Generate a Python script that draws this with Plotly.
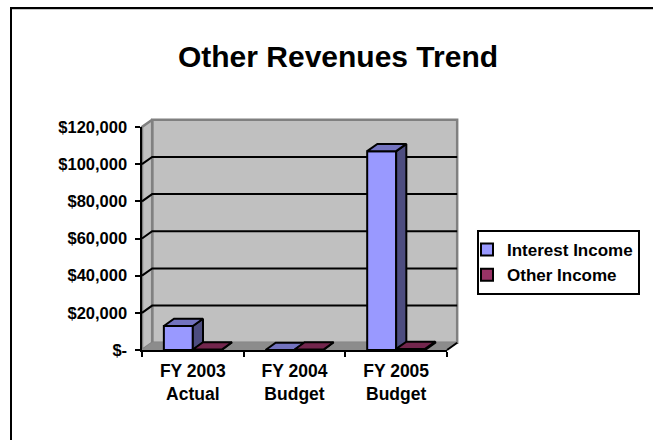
import plotly.graph_objects as go

categories = ["FY 2003<br>Actual", "FY 2004<br>Budget", "FY 2005<br>Budget"]
interest_income = [12900, 0, 107000]
other_income = [300, 300, 600]
y_ticks = [0, 20000, 40000, 60000, 80000, 100000, 120000]
y_labels = ["$- ", "$20,000 ", "$40,000 ", "$60,000 ", "$80,000 ", "$100,000 ", "$120,000 "]

FONT = "Liberation Sans"
BAR_GAP = 0.43
DX, DY = 0.1, 3900
X0, X1 = -0.5, 2.5
BAR_W = (1 - BAR_GAP) / 2
Y_TOP = y_ticks[-1]

# Plot area of the base axes and of the front plane, in page pixels
W, H = 653, 440
PL, PR, PT, PB = 132, 653, 110, 360
FL, FR, FT, FB = 142, 447, 127, 350
x_scale = (X1 - X0) / (FR - FL)
y_scale = Y_TOP / (FB - FT)

series = [
    ("Interest Income", interest_income, "#9999FF", "#7373BF", "#4D4D80", -BAR_W),
    ("Other Income", other_income, "#993366", "#73264D", "#4D1A33", 0),
]

fig = go.Figure()


def poly(xs, ys, fill, line="#000000", width=2, axes=("x", "y")):
    fig.add_trace(go.Scatter(
        x=xs + xs[:1], y=ys + ys[:1], mode="lines", fill="toself", fillcolor=fill,
        line=dict(color=line, width=width), showlegend=False, hoverinfo="skip",
        xaxis=axes[0], yaxis=axes[1],
    ))


# Back wall, side wall and floor on the base axes
poly([X0 + DX, X1 + DX, X1 + DX, X0 + DX], [DY, DY, Y_TOP + DY, Y_TOP + DY], "#C0C0C0", "#808080", 2.5)
poly([X0, X0 + DX, X0 + DX, X0], [0, DY, Y_TOP + DY, Y_TOP], "#C0C0C0", "#808080", 2.5)
poly([X0, X1, X1 + DX, X0 + DX], [0, 0, DY, DY], "#8C8C8C", "#8C8C8C", 1)

# Gridlines run along the side wall and across the back wall
for tick in y_ticks[1:-1]:
    fig.add_trace(go.Scatter(
        x=[X0, X0 + DX, X1 + DX], y=[tick, tick + DY, tick + DY], mode="lines",
        line=dict(color="#000000", width=2), showlegend=False, hoverinfo="skip",
    ))
fig.add_trace(go.Scatter(
    x=[X1, X1 + DX], y=[0, DY], mode="lines", line=dict(color="#000000", width=2),
    showlegend=False, hoverinfo="skip",
))

# Front faces are real bars, on axes stacked above the walls
for name, values, front, _, _, _ in series:
    fig.add_trace(go.Bar(
        x=[0, 1, 2], y=values, name=name,
        marker=dict(color=front, line=dict(color="#000000", width=2)),
        xaxis="x2", yaxis="y2", hoverinfo="skip",
    ))

# Top and side faces of each bar
for name, values, _, top_col, side_col, offset in series:
    for i, v in enumerate(values):
        left, right = i + offset, i + offset + BAR_W
        poly([right, right + DX, right + DX, right], [0, DY, v + DY, v], side_col, axes=("x2", "y2"))
        poly([left, right, right + DX, left + DX], [v, v, v + DY, v + DY], top_col, axes=("x2", "y2"))


def paper_x(px):
    return (px - PL) / (PR - PL)


def paper_y(py):
    return (PB - py) / (PB - PT)


fig.update_layout(
    width=W, height=H,
    margin=dict(l=PL, r=W - PR, t=PT, b=H - PB, pad=0),
    paper_bgcolor="#FFFFFF", plot_bgcolor="rgba(0,0,0,0)",
    barmode="group", bargap=BAR_GAP, bargroupgap=0,
    showlegend=True,
    legend=dict(
        x=paper_x(477), xanchor="left", y=paper_y(230), yanchor="top",
        bordercolor="#000000", borderwidth=2, bgcolor="#FFFFFF", indentation=-12,
        font=dict(family=FONT, size=17, color="#000000", weight="bold"),
    ),
    title=dict(text="<b>Other Revenues Trend</b>", x=338 / W, xanchor="center", y=1 - 56 / H, yanchor="middle",
               font=dict(family=FONT, size=30, color="#000000")),
    xaxis=dict(range=[X0 - (FL - PL) * x_scale, X1 + (PR - FR) * x_scale], showgrid=False, zeroline=False,
               showticklabels=False, ticks="", showline=False),
    yaxis=dict(range=[-(PB - FB) * y_scale, Y_TOP + (FT - PT) * y_scale], showgrid=False, zeroline=False,
               showticklabels=False, ticks="", showline=False),
    xaxis2=dict(
        range=[X0, X1], domain=[paper_x(FL), paper_x(FR)], anchor="y2", showgrid=False, zeroline=False,
        tickmode="array", tickvals=[0, 1, 2], ticktext=categories, ticks="", ticklabelstandoff=4,
        tickfont=dict(family=FONT, size=17.5, color="#000000", weight="bold"),
        showline=True, linecolor="#000000", linewidth=2,
        minor=dict(tickmode="array", tickvals=[-0.5, 0.5, 1.5, 2.5], ticks="outside", ticklen=5,
                   tickwidth=2, tickcolor="#000000"),
    ),
    yaxis2=dict(
        range=[0, Y_TOP], domain=[paper_y(FB), paper_y(FT)], anchor="x2", showgrid=False, zeroline=False,
        tickmode="array", tickvals=y_ticks, ticktext=y_labels,
        ticks="outside", ticklen=5, tickwidth=2, tickcolor="#000000",
        tickfont=dict(family=FONT, size=16.5, color="#000000", weight="bold"),
        showline=True, linecolor="#000000", linewidth=2,
    ),
    # Chart frame: it runs off the page to the right and at the bottom
    shapes=[
        dict(type="line", xref="paper", yref="paper", x0=paper_x(11), x1=paper_x(W), y0=paper_y(9.5), y1=paper_y(9.5),
             line=dict(color="#C8C8C8", width=1)),
        dict(type="line", xref="paper", yref="paper", x0=paper_x(10), x1=paper_x(W), y0=paper_y(8), y1=paper_y(8),
             line=dict(color="#000000", width=2)),
        dict(type="line", xref="paper", yref="paper", x0=paper_x(11), x1=paper_x(11), y0=paper_y(7), y1=paper_y(H),
             line=dict(color="#000000", width=2)),
    ],
)

fig.write_html("out.html")
